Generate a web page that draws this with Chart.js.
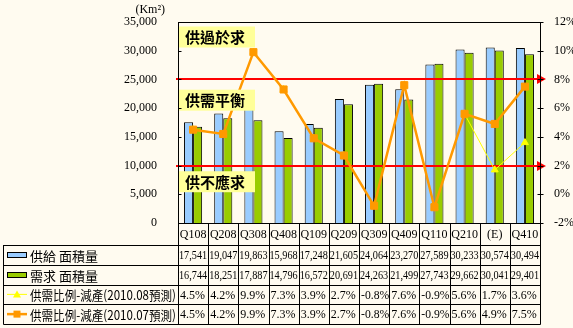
<!DOCTYPE html>
<html>
<head>
<meta charset="utf-8">
<script src="https://cdn.jsdelivr.net/npm/chart.js@4"></script>
<style>
  html, body { margin: 0; padding: 0; background: #FFFBF0; }
  #wrap { width: 573px; height: 328px; }
</style>
</head>
<body>
<div id="wrap"><canvas id="myChart" width="573" height="328"></canvas></div>
<script>
const quarters = ['Q108', 'Q208', 'Q308', 'Q408', 'Q109', 'Q209', 'Q309', 'Q409', 'Q110', 'Q210', '(E)', 'Q410'];
const supply = [17541, 19047, 19863, 15968, 17248, 21605, 24064, 23270, 27589, 30233, 30574, 30494];
const demand = [16744, 18251, 17887, 14796, 16572, 20691, 24263, 21499, 27743, 29662, 30041, 29401];
const ratioAug = [4.5, 4.2, 9.9, 7.3, 3.9, 2.7, -0.8, 7.6, -0.9, 5.6, 1.7, 3.6];
const ratioJul = [4.5, 4.2, 9.9, 7.3, 3.9, 2.7, -0.8, 7.6, -0.9, 5.6, 4.9, 7.5];
const seriesNames = ['供給 面積量', '需求 面積量', '供需比例-減產(2010.08預測)', '供需比例-減產(2010.07預測)'];
const balanceLines = [25000, 10000];
const zoneLabels = ['供過於求', '供需平衡', '供不應求'];

const BLUE = '#99CCFF', GREEN = '#99CC00', YELLOW = '#FFFF00', ORANGE = '#FF9900';
const NUM_FONT = '12px "Liberation Serif"';
const CJK = '"Noto Sans CJK TC"';

// red reference lines, drawn after the bars and before the ratio lines
const redLines = {
   id: 'redLines',
   beforeDatasetDraw(chart, args) {
      if (args.index !== 2) return;
      const {ctx, chartArea: a, scales: {y}} = chart;
      ctx.save();
      ctx.strokeStyle = '#FF0000';
      ctx.fillStyle = '#FF0000';
      ctx.lineWidth = 2;
      balanceLines.forEach(v => {
         const py = Math.round(y.getPixelForValue(v));
         ctx.beginPath();
         ctx.moveTo(a.left - 2, py);
         ctx.lineTo(a.right, py);
         ctx.stroke();
         ctx.beginPath();
         ctx.moveTo(a.right - 3, py - 5);
         ctx.lineTo(a.right + 6, py);
         ctx.lineTo(a.right - 3, py + 5);
         ctx.closePath();
         ctx.fill();
      });
      ctx.restore();
   },
};

const decorations = {
   id: 'decorations',
   afterDraw(chart) {
      const {ctx, chartArea: a, scales: {x, y, y1}} = chart;
      ctx.save();

      // zone boxes
      const boxCenters = [32300, 21300, 7100];
      ctx.font = 'bold 15px ' + CJK;
      ctx.textBaseline = 'middle';
      ctx.textAlign = 'left';
      zoneLabels.forEach((t, i) => {
         const cy = y.getPixelForValue(boxCenters[i]);
         ctx.fillStyle = '#FFFF99';
         ctx.fillRect(a.left + 1, cy - 11, 76, 21);
         ctx.fillStyle = '#000';
         ctx.fillText(t, a.left + 7, cy);
      });

      // plot frame + tick marks
      ctx.strokeStyle = '#000';
      ctx.lineWidth = 1;
      const L = Math.round(a.left) + 0.5, R = Math.round(a.right) + 0.5;
      const T = Math.round(a.top) + 0.5, B = Math.round(a.bottom) + 0.5;
      ctx.strokeRect(L, T, R - L, B - T);
      ctx.beginPath();
      y.ticks.forEach((tk, i) => {
         const py = Math.round(y.getPixelForTick(i)) + 0.5;
         ctx.moveTo(L, py); ctx.lineTo(L + 3, py);
      });
      y1.ticks.forEach((tk, i) => {
         const py = Math.round(y1.getPixelForTick(i)) + 0.5;
         ctx.moveTo(R - 3, py); ctx.lineTo(R + 3, py);
      });
      ctx.stroke();

      // unit label
      ctx.fillStyle = '#000';
      ctx.font = '12px "Liberation Serif"';
      ctx.textAlign = 'right';
      ctx.fillText('(Km²)', 165, 10);

      // data table
      const half = (x.getPixelForValue(1) - x.getPixelForValue(0)) / 2;
      const headTop = B, headBot = 245, rowH = 19.75;
      const tableLeft = 3.5;
      const rowsBot = Math.round(headBot + rowH * 4) + 0.5;
      ctx.beginPath();
      for (let r = 0; r <= 4; r++) {
         const py = Math.round(headBot + r * rowH) + 0.5;
         ctx.moveTo(tableLeft, py); ctx.lineTo(R, py);
      }
      ctx.moveTo(tableLeft, headBot); ctx.lineTo(tableLeft, rowsBot);
      quarters.forEach((q, i) => {
         const px = Math.round(x.getPixelForValue(i) - half) + 0.5;
         ctx.moveTo(px, headTop); ctx.lineTo(px, rowsBot);
      });
      ctx.moveTo(R, headTop); ctx.lineTo(R, rowsBot);
      ctx.stroke();

      const rows = [
         supply.map(v => v.toLocaleString('en-US')),
         demand.map(v => v.toLocaleString('en-US')),
         ratioAug.map(v => v.toFixed(1) + '%'),
         ratioJul.map(v => v.toFixed(1) + '%'),
      ];
      ctx.font = NUM_FONT;
      ctx.textBaseline = 'middle';
      quarters.forEach((q, i) => {
         const cx = x.getPixelForValue(i);
         ctx.textAlign = 'center';
         ctx.fillText(q, cx, (headTop + headBot) / 2 + 1, half * 2 - 2);
         rows.forEach((row, r) => {
            const cy = headBot + rowH * r + rowH / 2 + 1;
            ctx.textAlign = r < 2 ? 'center' : 'left';
            ctx.fillText(row[i], r < 2 ? cx : cx - half + 2, cy, half * 2 - 2);
         });
      });

      // row labels with legend keys
      ctx.textAlign = 'left';
      ctx.font = '13px ' + CJK;
      seriesNames.forEach((name, r) => {
         const cy = headBot + rowH * r + rowH / 2;
         const kx = 7, kw = 20;
         if (r < 2) {
            ctx.fillStyle = r === 0 ? BLUE : GREEN;
            ctx.fillRect(kx, Math.round(cy) - 3, kw, 6);
            ctx.strokeStyle = '#000';
            ctx.strokeRect(kx + 0.5, Math.round(cy) - 2.5, kw - 1, 5);
         } else {
            const col = r === 2 ? YELLOW : ORANGE;
            ctx.strokeStyle = col;
            ctx.fillStyle = col;
            ctx.lineWidth = r === 2 ? 1 : 2.5;
            ctx.beginPath();
            ctx.moveTo(kx, cy); ctx.lineTo(kx + kw, cy);
            ctx.stroke();
            ctx.beginPath();
            if (r === 2) {
               ctx.moveTo(kx + kw / 2, cy - 4);
               ctx.lineTo(kx + kw / 2 + 4, cy + 3);
               ctx.lineTo(kx + kw / 2 - 4, cy + 3);
               ctx.closePath();
               ctx.fill();
            } else {
               ctx.fillRect(kx + kw / 2 - 3.5, cy - 3.5, 7, 7);
            }
            ctx.lineWidth = 1;
         }
         ctx.fillStyle = '#000';
         ctx.fillText(name, 30, cy + 1, 146);
      });

      ctx.restore();
   },
};

const data = {
   labels: quarters,
   datasets: [
      {
         type: 'bar', label: seriesNames[0], data: supply, yAxisID: 'y', order: 3,
         backgroundColor: BLUE, borderColor: '#000', borderWidth: 1,
         categoryPercentage: 0.6, barPercentage: 1.0,
      },
      {
         type: 'bar', label: seriesNames[1], data: demand, yAxisID: 'y', order: 4,
         backgroundColor: GREEN, borderColor: '#000', borderWidth: 1,
         categoryPercentage: 0.6, barPercentage: 1.0,
      },
      {
         type: 'line', label: seriesNames[2], data: ratioAug, yAxisID: 'y1', order: 2,
         borderColor: YELLOW, backgroundColor: YELLOW, borderWidth: 1,
         pointStyle: 'triangle', pointRadius: 4, pointBorderWidth: 1,
      },
      {
         type: 'line', label: seriesNames[3], data: ratioJul, yAxisID: 'y1', order: 1,
         borderColor: ORANGE, backgroundColor: ORANGE, borderWidth: 2.5,
         pointStyle: 'rect', pointRadius: 5, pointBorderWidth: 1,
      },
   ],
};

const config = {
   type: 'bar',
   data: data,
   plugins: [redLines, decorations],
   options: {
      responsive: false,
      animation: false,
      layout: { padding: { left: 0, right: 0, top: 22, bottom: 105 } },
      plugins: {
         legend: { display: false },
         tooltip: { enabled: false },
      },
      scales: {
         x: { display: false },
         y: {
            position: 'left', min: 0, max: 35000,
            grid: { display: false }, border: { display: false },
            ticks: {
               stepSize: 5000, padding: 13, color: '#000',
               font: { family: 'Liberation Serif', size: 12 },
               callback: v => v.toLocaleString('en-US'),
            },
            afterFit: s => { s.width = 178; },
         },
         y1: {
            position: 'right', min: -2, max: 12,
            grid: { display: false }, border: { display: false },
            ticks: {
               stepSize: 2, padding: 6, color: '#000',
               font: { family: 'Liberation Serif', size: 12 },
               callback: v => v + '%',
            },
            afterFit: s => { s.width = 33; },
         },
      },
   },
};
const myChart = new Chart(document.getElementById('myChart'), config);
</script>
</body>
</html>
